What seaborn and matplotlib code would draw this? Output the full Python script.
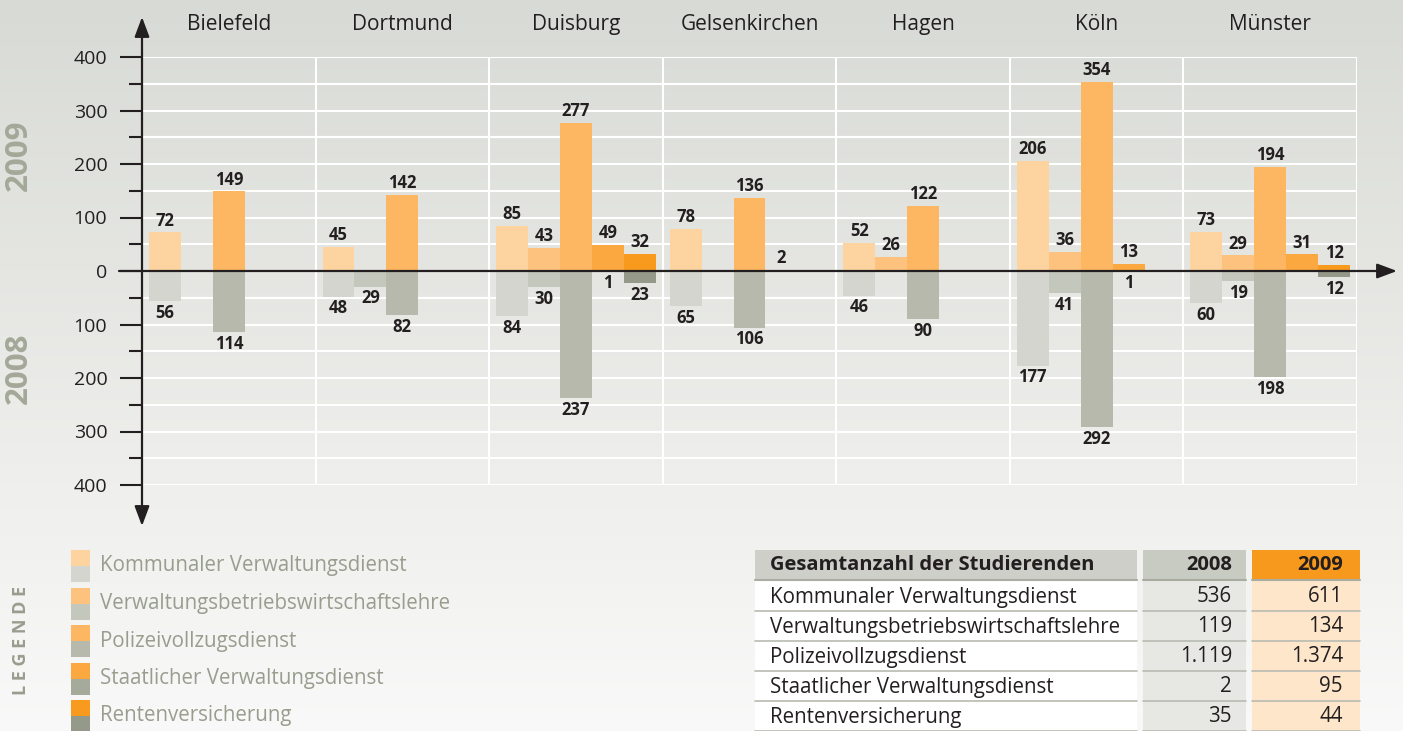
import matplotlib
matplotlib.use("Agg")
import matplotlib.pyplot as plt
from matplotlib.patches import FancyArrowPatch, Rectangle
import numpy as np
import pandas as pd
import seaborn as sns

# --- data -------------------------------------------------------------
cities = ["Bielefeld", "Dortmund", "Duisburg", "Gelsenkirchen", "Hagen", "Köln", "Münster"]
categories = [
    "Kommunaler Verwaltungsdienst",
    "Verwaltungsbetriebswirtschaftslehre",
    "Polizeivollzugsdienst",
    "Staatlicher Verwaltungsdienst",
    "Rentenversicherung",
]

kommunal_2009 = [72, 45, 85, 78, 52, 206, 73]
vbw_2009 = [None, None, 43, None, 26, 36, 29]
polizei_2009 = [149, 142, 277, 136, 122, 354, 194]
staat_2009 = [None, None, 49, 2, None, 13, 31]
rente_2009 = [None, None, 32, None, None, None, 12]

kommunal_2008 = [56, 48, 84, 65, 46, 177, 60]
vbw_2008 = [None, 29, 30, None, None, 41, 19]
polizei_2008 = [114, 82, 237, 106, 90, 292, 198]
staat_2008 = [None, None, 1, None, None, 1, None]
rente_2008 = [None, None, 23, None, None, None, 12]

totals_2008 = [536, 119, 1119, 2, 35]
totals_2009 = [611, 134, 1374, 95, 44]

colors_2009 = ["#FDD39F", "#FDC27D", "#FDB661", "#FBA840", "#F79A1E"]
colors_2008 = ["#D3D5CE", "#C4C7BC", "#B6B9AB", "#A6AA9B", "#959989"]

TEXT = "#231F20"
GREY_TEXT = "#999D8E"


def long_frame(series):
    rows = []
    for cat, vals in zip(categories, series):
        for city, v in zip(cities, vals):
            if v is not None:
                rows.append((city, cat, v))
    return pd.DataFrame(rows, columns=["Stadt", "Studiengang", "Anzahl"])


df09 = long_frame([kommunal_2009, vbw_2009, polizei_2009, staat_2009, rente_2009])
df08 = long_frame([kommunal_2008, vbw_2008, polizei_2008, staat_2008, rente_2008])
df08["Anzahl"] = -df08["Anzahl"]

# --- figure -----------------------------------------------------------
sns.set_theme(style="white")
plt.rcParams["font.family"] = ["Open Sans", "DejaVu Sans"]

W, H = 1403, 731
fig = plt.figure(figsize=(W / 100, H / 100), dpi=100)


def fx(x, y):
    return (x / W, 1 - y / H)


# background canvas in pixel coordinates
bg = fig.add_axes([0, 0, 1, 1], zorder=0)
bg.set_xlim(0, W)
bg.set_ylim(H, 0)
bg.axis("off")
rows_y = np.arange(H)
stops_y = [0, 270, 485, 731]
stops_c = np.array([[216, 218, 213], [229, 230, 226], [239, 239, 237], [249, 249, 249]]) / 255
grad = np.stack([np.interp(rows_y, stops_y, stops_c[:, k]) for k in range(3)], axis=1)
bg.imshow(grad[:, None, :], extent=[0, W, H, 0], aspect="auto", zorder=0)

# main chart
ax = fig.add_axes([142 / W, 1 - 485 / H, (1357 - 142) / W, (485 - 57) / H], zorder=1)
ax.set_facecolor("none")

n0 = len(ax.containers)
sns.barplot(data=df09, x="Stadt", y="Anzahl", hue="Studiengang", order=cities,
            hue_order=categories, palette=colors_2009, width=0.92, saturation=1,
            errorbar=None, legend=False, linewidth=0, ax=ax)
c09 = ax.containers[n0:]
n1 = len(ax.containers)
sns.barplot(data=df08, x="Stadt", y="Anzahl", hue="Studiengang", order=cities,
            hue_order=categories, palette=colors_2008, width=0.92, saturation=1,
            errorbar=None, legend=False, linewidth=0, ax=ax)
c08 = ax.containers[n1:]

for cont in list(c09) + list(c08):
    ax.bar_label(cont, labels=[f"{abs(v):.0f}" for v in cont.datavalues], padding=2,
                 fontsize=12, fontweight="bold", color=TEXT)

ax.set_xlim(-0.5, 6.5)
ax.set_ylim(-400, 400)
ax.set_xlabel("")
ax.set_ylabel("")
for s in ax.spines.values():
    s.set_visible(False)

ax.set_yticks(np.arange(-400, 401, 100))
ax.set_yticklabels([str(abs(t)) for t in range(-400, 401, 100)])
ax.set_yticks(np.arange(-350, 351, 100), minor=True)
ax.tick_params(axis="y", which="major", left=True, length=16, width=1.5, color=TEXT,
               pad=9, labelsize=14, labelcolor=TEXT, direction="out")
ax.tick_params(axis="y", which="minor", left=True, length=9.5, width=1.5, color=TEXT,
               direction="out")

ax.xaxis.tick_top()
ax.set_xticks(range(len(cities)))
ax.set_xticklabels(cities)
ax.set_xticks(np.arange(0.5, 7, 1), minor=True)
ax.tick_params(axis="x", which="both", length=0, pad=16, labelsize=15, labelcolor=TEXT)
ax.set_axisbelow(True)
ax.yaxis.grid(True, which="both", color="white", lw=1.5)
ax.xaxis.grid(True, which="minor", color="white", lw=1.5)
ax.xaxis.grid(False, which="major")

# axes with arrow heads
fig.add_artist(FancyArrowPatch(fx(142, 526), fx(142, 17), transform=fig.transFigure,
                               arrowstyle="<|-|>,head_length=1.2,head_width=0.45",
                               mutation_scale=10, color=TEXT, lw=1.6, shrinkA=0, shrinkB=0,
                               zorder=5))
fig.add_artist(FancyArrowPatch(fx(119, 271), fx(1397, 271), transform=fig.transFigure,
                               arrowstyle="-|>,head_length=1.2,head_width=0.45",
                               mutation_scale=10, color=TEXT, lw=1.6, shrinkA=0, shrinkB=0,
                               zorder=5))

bg.text(19, 155, "2009", rotation=90, ha="center", va="center", fontsize=22.5,
        fontweight="bold", color="#A3A898")
bg.text(19, 368, "2008", rotation=90, ha="center", va="center", fontsize=22.5,
        fontweight="bold", color="#A3A898")

# legend
bg.text(21, 640, "L E G E N D E", rotation=90, ha="center", va="center", fontsize=13,
        fontweight="bold", color=GREY_TEXT)
for i, cat in enumerate(categories):
    top = 550 + i * 37.5
    bg.add_patch(Rectangle((71, top), 19, 16, color=colors_2009[i], lw=0))
    bg.add_patch(Rectangle((71, top + 16), 19, 16, color=colors_2008[i], lw=0))
    bg.text(100, top + 16, cat, ha="left", va="center", fontsize=14.8, color=GREY_TEXT)

# summary table
cols = [(755, 1137), (1143, 1246), (1252, 1360)]
head_colors = ["#CDCFC8", "#C8CBC2", "#F7991C"]
body_colors = ["white", "#E7E8E3", "#FDE6C9"]
for (x0, x1), hc, bc in zip(cols, head_colors, body_colors):
    bg.add_patch(Rectangle((x0, 550), x1 - x0, 29, color=hc, lw=0))
    bg.add_patch(Rectangle((x0, 581), x1 - x0, 150, color=bc, lw=0))
    bg.plot([x0, x1], [580, 580], color="#A9ACA0", lw=1.5)
    for k in range(5):
        yl = 611 + 30 * k
        bg.plot([x0, x1], [yl, yl], color="#B8BBB0", lw=1.2)

bg.text(770, 565, "Gesamtanzahl der Studierenden", ha="left", va="center",
        fontsize=14.5, fontweight="bold", color=TEXT)
bg.text(1232, 565, "2008", ha="right", va="center", fontsize=14.5, fontweight="bold", color=TEXT)
bg.text(1343, 565, "2009", ha="right", va="center", fontsize=14.5, fontweight="bold", color=TEXT)


def de_num(v):
    return f"{v:,}".replace(",", ".")


for k, cat in enumerate(categories):
    yc = 597 + 30 * k
    bg.text(770, yc, cat, ha="left", va="center", fontsize=14.8, color=TEXT)
    bg.text(1232, yc, de_num(totals_2008[k]), ha="right", va="center", fontsize=14.8, color=TEXT)
    bg.text(1343, yc, de_num(totals_2009[k]), ha="right", va="center", fontsize=14.8, color=TEXT)

fig.savefig("out.png", dpi=100)
plt.close(fig)
